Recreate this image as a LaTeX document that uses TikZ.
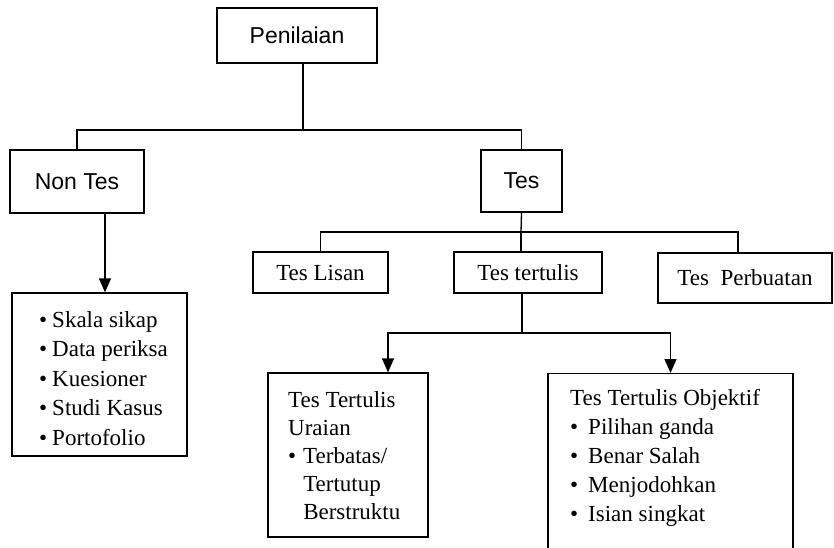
\documentclass[tikz,border=0pt]{standalone}
\usepackage{fontspec}
\setmainfont{Liberation Serif}
\newfontfamily\arialf{Liberation Sans}
\usetikzlibrary{arrows.meta}
\begin{document}
\begin{tikzpicture}[x=1pt,y=-1pt,
  box/.style={draw, line width=1.3pt, inner sep=0pt, font=\fontsize{23}{28}\selectfont},
  sbox/.style={box, font=\arialf\fontsize{23}{28}\selectfont},
  conn/.style={line width=1.3pt},
  arr/.style={conn, -{Triangle[length=14pt,width=12pt]}},
  listtext/.style={inner sep=0pt, anchor=base west}
]
\fill[white] (0,0) rectangle (834,547);
\clip (0,0) rectangle (834,547);
% boxes
\node[sbox, minimum width=160, minimum height=55] (pen) at (297,35.5) {Penilaian};
\node[sbox, minimum width=134, minimum height=63] (nontes) at (77,181.5) {Non Tes};
\node[sbox, minimum width=81, minimum height=62] (tes) at (521.5,181) {Tes};
\node[box, minimum width=135, minimum height=41] (lisan) at (320.5,272.5) {Tes Lisan};
\node[box, minimum width=148, minimum height=41] (tertulis) at (528,272.5) {Tes tertulis};
\node[box, minimum width=174, minimum height=50] (perb) at (745,278) {Tes\ \ Perbuatan};
\node[box, minimum width=175, minimum height=163] (ntlist) at (99.5,374.5) {};
\node[box, minimum width=160, minimum height=164] (uraian) at (348,455) {};
\node[box, minimum width=245, minimum height=190, anchor=north] (objektif) at (670.5,373) {};
% list texts
\node[listtext, font=\fontsize{23}{29.5}\selectfont] (ntlistt) at (39,327)
  {\begin{tabular}[t]{@{}l@{\hspace{5pt}}l@{}}
   \textbullet & Skala sikap\\
   \textbullet & Data periksa\\
   \textbullet & Kuesioner\\
   \textbullet & Studi Kasus\\
   \textbullet & Portofolio
   \end{tabular}};
\node[listtext, font=\fontsize{23}{28}\selectfont] (uraiant) at (288,407)
  {\begin{tabular}[t]{@{}l@{\hspace{7pt}}l@{}}
   \multicolumn{2}{@{}l@{}}{Tes Tertulis}\\
   \multicolumn{2}{@{}l@{}}{Uraian}\\
   \textbullet & Terbatas/\\
   & Tertutup\\
   & Berstruktu
   \end{tabular}};
\node[listtext, font=\fontsize{23}{29}\selectfont] (objektift) at (570,405)
  {\begin{tabular}[t]{@{}l@{\hspace{10pt}}l@{}}
   \multicolumn{2}{@{}l@{}}{Tes Tertulis Objektif}\\
   \textbullet & Pilihan ganda\\
   \textbullet & Benar Salah\\
   \textbullet & Menjodohkan\\
   \textbullet & Isian singkat
   \end{tabular}};
% connectors
\coordinate (j1) at (303,130);
\draw[conn] (pen.south -| j1) -- (j1);
\draw[conn] (nontes.north) |- (j1) -| (tes.north);
\draw[arr] ([xshift=28pt]nontes.south) -- ([xshift=28pt]nontes.south |- ntlist.north);
\coordinate (j2) at (521,232);
\draw[conn] (tes.south) -- (j2);
\draw[conn] (lisan.north) |- (j2) -| ([xshift=-7pt]perb.north);
\draw[conn] (j2) -- (j2 |- tertulis.north);
\coordinate (j3) at (522,333);
\draw[conn] (tertulis.south -| j3) -- (j3);
\draw[arr] (j3) -| ([xshift=40pt]uraian.north);
\draw[arr] (j3) -| (objektif.north);
\end{tikzpicture}
\end{document}
